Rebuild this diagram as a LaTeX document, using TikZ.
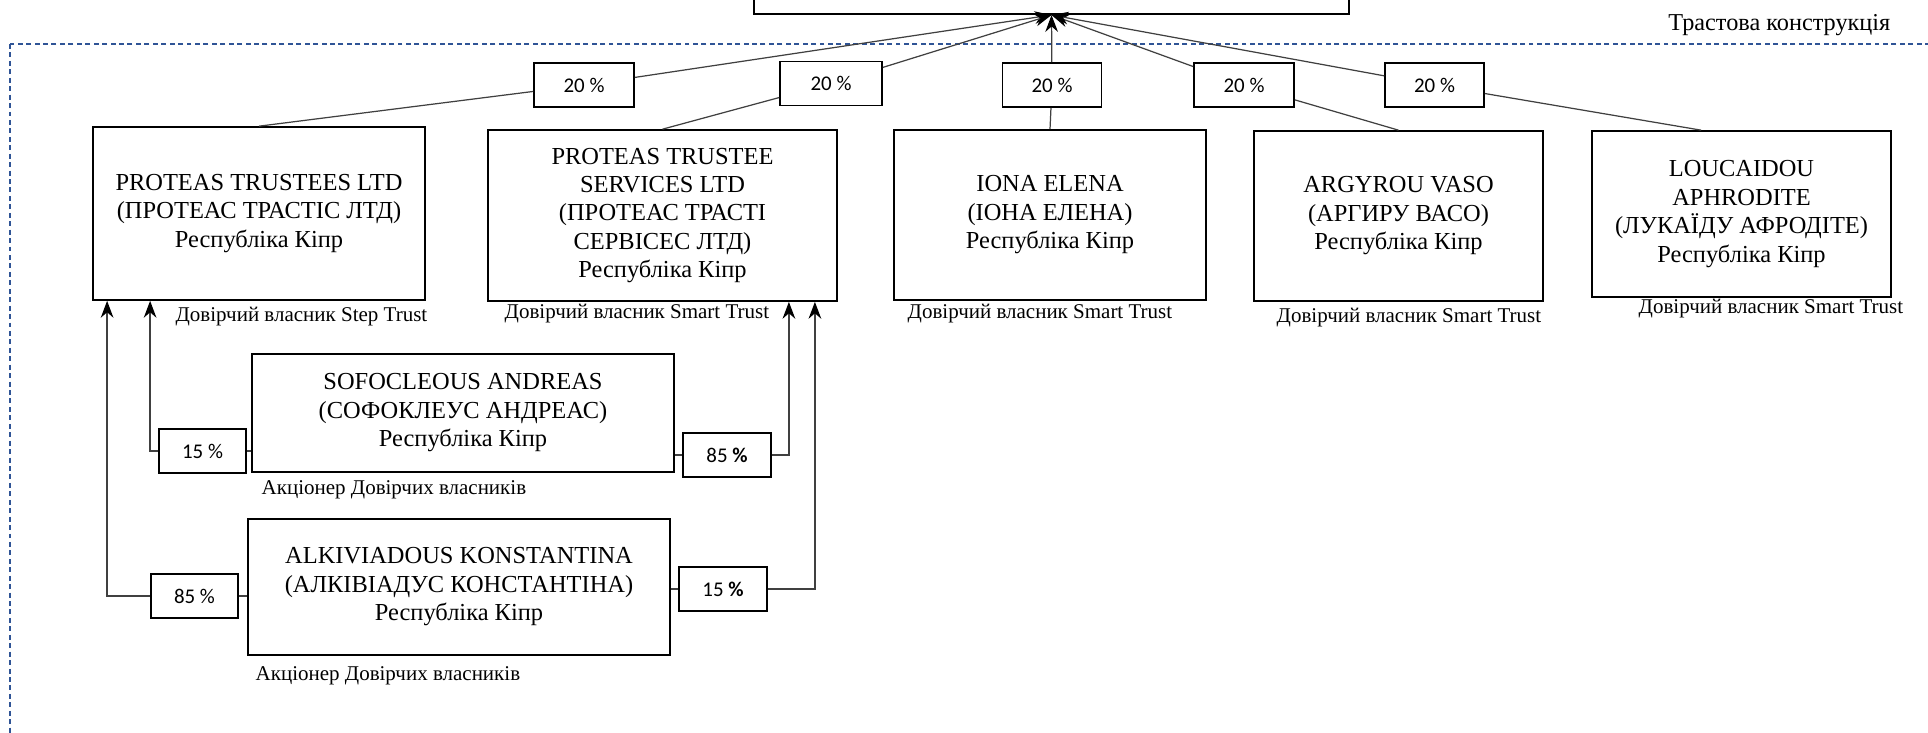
\documentclass[tikz,border=0pt]{standalone}
\usepackage{fontspec}
\setmainfont{Liberation Serif}
\newfontfamily\pctfont{Carlito}
\usetikzlibrary{arrows.meta,calc}
\definecolor{trustblue}{RGB}{47,84,150}

\begin{document}
\begin{tikzpicture}[x=0.01cm,y=-0.01cm,
  party/.style={draw,line width=0.45pt,align=center,inner sep=1pt,font=\fontsize{6.95}{8.1}\selectfont},
  share/.style={draw,line width=0.45pt,minimum height=0.44cm,inner sep=0pt,font=\pctfont\fontsize{5.95}{6.8}\selectfont},
  role/.style={inner sep=0pt,font=\fontsize{5.97}{7}\selectfont},
  link/.style={line width=0.35pt,black!75},
  toup/.style={-{Stealth[length=4.8pt,width=3.6pt,color=black]}}]
\useasboundingbox (0,0) rectangle (1928,732);
\clip (0,0) rectangle (1928,732);

\draw[trustblue,line width=0.5pt,dash pattern=on 1.4pt off 1pt] (10,44) rectangle (1960,780);
\node[role,anchor=base east,font=\fontsize{6.9}{8}\selectfont] (trust) at (1891,30) {Трастова конструкція};
\node[draw,line width=0.45pt,minimum width=5.95cm,minimum height=0.8cm,anchor=south] (top) at (1051.5,15) {};

% trustees and beneficiaries
\node[party,minimum width=3.32cm,minimum height=1.73cm] (A) at (259,213.5) {PROTEAS TRUSTEES LTD\\(ПРОТЕАС ТРАСТІС ЛТД)\\Республіка Кіпр};
\node[party,minimum width=3.49cm,minimum height=1.71cm] (B) at (662.5,215.5) {PROTEAS TRUSTEE\\SERVICES LTD\\(ПРОТЕАС ТРАСТІ\\СЕРВІСЕС ЛТД)\\Республіка Кіпр};
\node[party,minimum width=3.12cm,minimum height=1.70cm] (C) at (1050,215) {IONA ELENA\\(ІОНА ЕЛЕНА)\\Республіка Кіпр};
\node[party,minimum width=2.89cm,minimum height=1.70cm] (D) at (1398.5,216) {ARGYROU VASO\\(АРГИРУ ВАСО)\\Республіка Кіпр};
\node[party,minimum width=2.99cm,minimum height=1.66cm] (E) at (1741.5,214) {LOUCAIDOU\\APHRODITE\\(ЛУКАЇДУ АФРОДІТЕ)\\Республіка Кіпр};
\node[party,minimum width=4.22cm,minimum height=1.18cm] (S) at (463,413) {SOFOCLEOUS ANDREAS\\(СОФОКЛЕУС АНДРЕАС)\\Республіка Кіпр};
\node[party,minimum width=4.22cm,minimum height=1.36cm] (K) at (459,587) {ALKIVIADOUS KONSTANTINA\\(АЛКІВІАДУС КОНСТАНТІНА)\\Республіка Кіпр};

\node[role,anchor=base east] (Arole) at (428,321) {Довірчий власник Step Trust};
\node[role,anchor=base west] (Brole) at (504,318) {Довірчий власник Smart Trust};
\node[role,anchor=base west] (Crole) at (907,318) {Довірчий власник Smart Trust};
\node[role,anchor=base west] (Drole) at (1276,322) {Довірчий власник Smart Trust};
\node[role,anchor=base west] (Erole) at (1638,313) {Довірчий власник Smart Trust};
\node[role,anchor=base west] (Srole) at (261,494) {Акціонер Довірчих власників};
\node[role,anchor=base west] (Krole) at (255,680) {Акціонер Довірчих власників};

% shares
\node[share,minimum width=1.00cm] (P1) at (584,85) {20 \%};
\node[share,minimum width=1.02cm] (P2) at (831,83.5) {20 \%};
\node[share,minimum width=0.99cm] (P3) at (1052,85) {20 \%};
\node[share,minimum width=1.00cm] (P4) at (1244,85) {20 \%};
\node[share,minimum width=0.99cm] (P5) at (1434.5,85) {20 \%};
\node[share,minimum width=0.87cm] (Q1) at (202.5,451) {15 \%};
\node[share,minimum width=0.88cm] (Q2) at (727,455) {85 \textbf{\%}};
\node[share,minimum width=0.87cm] (Q3) at (194.5,596) {85 \%};
\node[share,minimum width=0.88cm] (Q4) at (723,589) {15 \textbf{\%}};

\coordinate (e1) at ($(E.north west)+(110,0)$);
\coordinate (a1) at ($(A.south west)+(15,0)$);
\coordinate (a2) at ($(A.south west)+(58,0)$);
\coordinate (b1) at ($(B.south east)+(-49,0)$);
\coordinate (b2) at ($(B.south east)+(-23,0)$);

\draw[link,toup] (A.north) -- (P1) -- (top.south);
\draw[link,toup] (B.north) -- (P2) -- (top.south);
\draw[link,toup] (C.north) -- (P3) -- (top.south);
\draw[link,toup] (D.north) -- (P4) -- (top.south);
\draw[link,toup] (e1) -- (P5) -- (top.south);

\draw[link,toup] (S.west |- Q1) -- (Q1) -- (Q1 -| a2) -- (a2);
\draw[link,toup] (K.west |- Q3) -- (Q3) -- (Q3 -| a1) -- (a1);
\draw[link,toup] (S.east |- Q2) -- (Q2) -- (Q2 -| b1) -- (b1);
\draw[link,toup] (K.east |- Q4) -- (Q4) -- (Q4 -| b2) -- (b2);
\end{tikzpicture}
\end{document}
